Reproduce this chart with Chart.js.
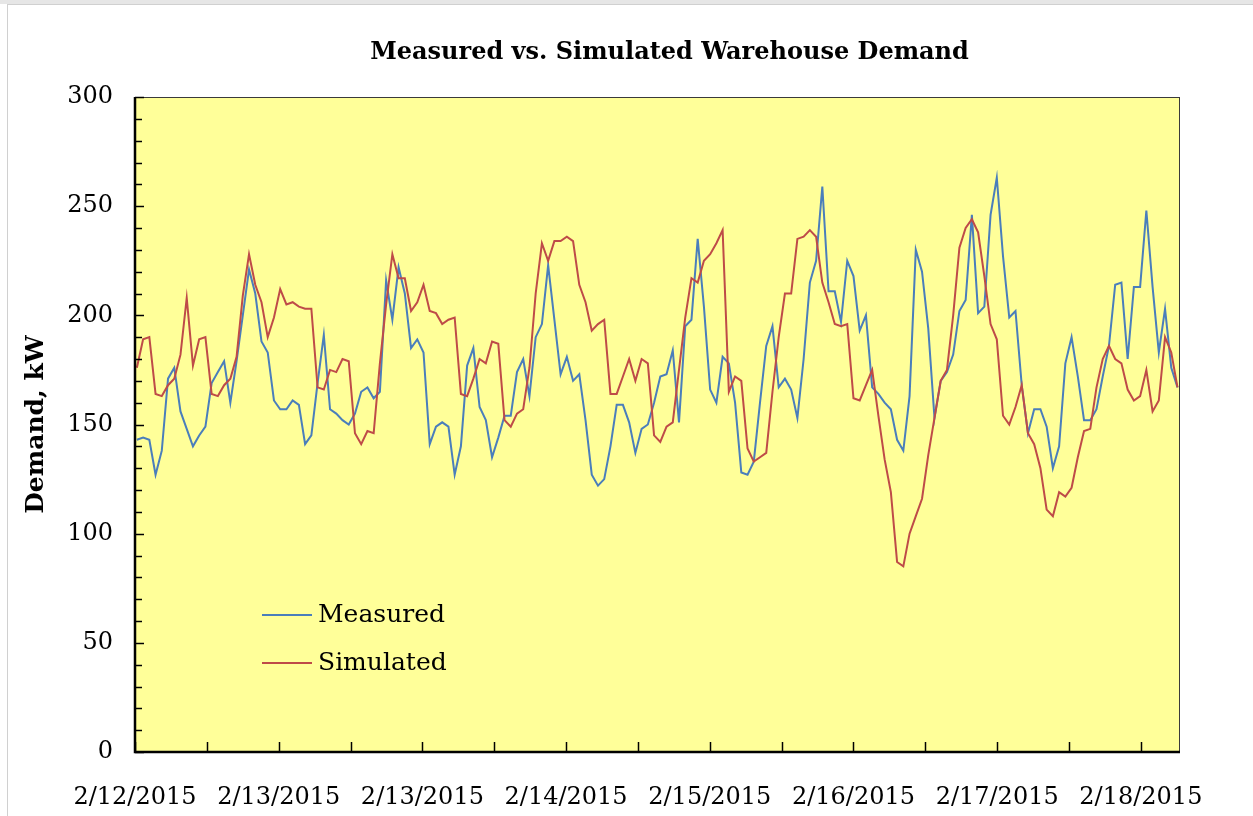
<!DOCTYPE html>
<html>
<head>
<meta charset="utf-8">
<script src="https://cdn.jsdelivr.net/npm/chart.js@4"></script>
<style>
  html, body { margin: 0; padding: 0; background: #fff; }
  body { width: 1253px; height: 816px; overflow: hidden; position: relative; font-family: "DejaVu Serif", serif; }
  #topband { position: absolute; left: 0; top: 0; width: 1253px; height: 4px; background: #e6e6e6; }
  #frame { position: absolute; left: 7px; top: 4px; width: 1300px; height: 900px; border-top: 1px solid #d0d0d0; border-left: 1px solid #d0d0d0; }
  #title { position: absolute; left: 0; width: 1339px; top: 36px; text-align: center; font-weight: bold; font-size: 24px; line-height: 30px; color: #000; }
  #chart { position: absolute; left: 0; top: 0; }
  .lg-line { position: absolute; left: 262px; width: 50px; height: 2px; }
  .lg-text { position: absolute; left: 318px; font-size: 25px; line-height: 30px; color: #000; }
</style>
</head>
<body>
<div id="topband"></div>
<div id="frame"></div>
<canvas id="chart" width="1253" height="816"></canvas>
<div id="title">Measured vs. Simulated Warehouse Demand</div>
<div id="legend"></div>

<script>
// hourly demand, kW (168 hours)
const measured = [
  143, 144, 143, 127, 138, 171, 176, 156, 148, 140, 145, 149,
  169, 174, 179, 160, 179, 200, 221, 210, 188, 183, 161, 157,
  157, 161, 159, 141, 145, 169, 191, 157, 155, 152, 150, 155,
  165, 167, 162, 165, 216, 198, 222, 210, 185, 189, 183, 141,
  149, 151, 149, 127, 140, 177, 185, 158, 152, 135, 144, 154,
  154, 174, 180, 163, 190, 196, 223, 198, 173, 181, 170, 173,
  152, 127, 122, 125, 140, 159, 159, 151, 137, 148, 150, 160,
  172, 173, 184, 151, 195, 198, 235, 204, 166, 160, 181, 178,
  160, 128, 127, 133, 160, 186, 195, 167, 171, 166, 153, 180,
  215, 225, 259, 211, 211, 197, 225, 218, 193, 200, 167, 164,
  160, 157, 143, 138, 163, 230, 220, 194, 153, 170, 174, 182,
  202, 207, 246, 201, 204, 246, 263, 227, 199, 202, 168, 146,
  157, 157, 149, 130, 140, 178, 190, 172, 152, 152, 157, 172,
  186, 214, 215, 180, 213, 213, 248, 213, 183, 203, 176, 167
];
const simulated = [
  176, 189, 190, 164, 163, 168, 171, 182, 208, 177, 189, 190,
  164, 163, 168, 171, 181, 209, 228, 214, 206, 190, 199, 212,
  205, 206, 204, 203, 203, 167, 166, 175, 174, 180, 179, 146,
  141, 147, 146, 178, 205, 228, 217, 217, 202, 206, 214, 202,
  201, 196, 198, 199, 164, 163, 171, 180, 178, 188, 187, 152,
  149, 155, 157, 176, 210, 233, 225, 234, 234, 236, 234, 214,
  206, 193, 196, 198, 164, 164, 172, 180, 170, 180, 178, 145,
  142, 149, 151, 175, 199, 217, 215, 225, 228, 233, 239, 165,
  172, 170, 139, 133, 135, 137, 165, 190, 210, 210, 235, 236,
  239, 236, 215, 206, 196, 195, 196, 162, 161, 168, 175, 154,
  134, 119, 87, 85, 100, 108, 116, 136, 153, 170, 175, 200,
  231, 240, 244, 238, 218, 196, 189, 154, 150, 158, 168, 146,
  141, 130, 111, 108, 119, 117, 121, 135, 147, 148, 167, 180,
  186, 180, 178, 166, 161, 163, 175, 156, 161, 190, 183, 167
];
const xTickLabels = ['2/12/2015', '2/13/2015', '2/13/2015', '2/14/2015',
                     '2/15/2015', '2/16/2015', '2/17/2015', '2/18/2015'];
const yTicks = [0, 50, 100, 150, 200, 250, 300];

const X_MIN = -0.3, X_MAX = 167.4, X_STEP = 11.53;

// Inward tick marks, axis lines and the yellow plot area
const plotFrame = {
  id: 'plotFrame',
  beforeDraw(chart) {
    const {ctx, chartArea: a} = chart;
    ctx.save();
    ctx.fillStyle = '#FFFF99';
    ctx.fillRect(a.left, a.top, a.width, a.height);
    ctx.restore();
  },
  afterDatasetsDraw(chart) {
    const {ctx, chartArea: a, scales} = chart;
    ctx.save();
    ctx.strokeStyle = '#3a3a3a';
    ctx.lineWidth = 1;
    ctx.strokeRect(a.left + 0.5, a.top + 0.5, a.width - 1, a.height - 1);

    ctx.strokeStyle = '#000';
    ctx.lineWidth = 1.5;
    for (let v = 0; v <= 300; v += 10) {
      const y = Math.round(scales.y.getPixelForValue(v)) + 0.5;
      const len = v % 50 === 0 ? 9 : 7;
      ctx.beginPath(); ctx.moveTo(a.left, y); ctx.lineTo(a.left + len, y); ctx.stroke();
    }
    scales.x.ticks.forEach(t => {
      const x = Math.round(scales.x.getPixelForValue(t.value)) + 0.5;
      ctx.beginPath(); ctx.moveTo(x, a.bottom); ctx.lineTo(x, a.bottom - 10); ctx.stroke();
    });

    ctx.lineWidth = 2.5;
    ctx.beginPath();
    ctx.moveTo(a.left, a.top);
    ctx.lineTo(a.left, a.bottom);
    ctx.lineTo(a.right, a.bottom);
    ctx.stroke();
    ctx.restore();
  }
};

Chart.defaults.font.family = "'DejaVu Serif', serif";
Chart.defaults.color = '#000';

const ctx = document.getElementById('chart');
const chart = new Chart(ctx, {
  type: 'line',
  data: {
    datasets: [
      {
        label: 'Measured',
        data: measured.map((v, i) => ({x: i, y: v})),
        borderColor: '#4A7EBB',
        borderWidth: 2,
        pointRadius: 0,
        tension: 0,
        order: 1
      },
      {
        label: 'Simulated',
        data: simulated.map((v, i) => ({x: i, y: v})),
        borderColor: '#BE4B48',
        borderWidth: 2,
        pointRadius: 0,
        tension: 0,
        order: 0
      }
    ]
  },
  options: {
    responsive: false,
    animation: false,
    devicePixelRatio: 1,
    layout: { padding: { left: 8, right: 73, top: 97, bottom: 0 } },
    plugins: {
      legend: { display: false },
      title: { display: false },
      tooltip: { enabled: false }
    },
    scales: {
      x: {
        type: 'linear',
        min: X_MIN,
        max: X_MAX,
        grid: { display: false },
        border: { display: false },
        afterBuildTicks(s) {
          const ticks = [];
          for (let k = 0; k <= 14; k++) ticks.push({ value: X_MIN + k * X_STEP });
          s.ticks = ticks;
        },
        afterFit(s) { s.height = 64; },
        ticks: {
          autoSkip: false,
          maxRotation: 0,
          padding: 23,
          font: { size: 24 },
          callback(value, index) {
            return index % 2 === 0 ? xTickLabels[index / 2] : '';
          }
        }
      },
      y: {
        min: 0,
        max: 300,
        grid: { display: false },
        border: { display: false },
        afterBuildTicks(s) { s.ticks = yTicks.map(v => ({ value: v })); },
        afterFit(s) { s.width = 127; },
        ticks: { padding: 14, font: { size: 24 } },
        title: {
          display: true,
          text: 'Demand, kW',
          font: { size: 25, weight: 'bold' },
          padding: { top: 13, bottom: 0 }
        }
      }
    }
  },
  plugins: [plotFrame]
});

// legend inside the plot area, built from the datasets
const legendTops = [599, 647];
const legend = document.getElementById('legend');
chart.data.datasets.forEach((ds, i) => {
  const line = document.createElement('div');
  line.className = 'lg-line';
  line.style.top = (legendTops[i] + 15) + 'px';
  line.style.background = ds.borderColor;
  legend.appendChild(line);
  const txt = document.createElement('div');
  txt.className = 'lg-text';
  txt.style.top = legendTops[i] + 'px';
  txt.textContent = ds.label;
  legend.appendChild(txt);
});
</script>
</body>
</html>
